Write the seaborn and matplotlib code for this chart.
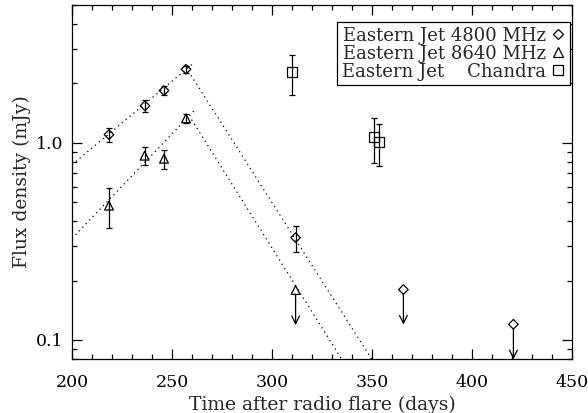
import numpy as np
import pandas as pd
import seaborn as sns
import matplotlib.pyplot as plt
from matplotlib.lines import Line2D
from matplotlib.ticker import FixedLocator, LogLocator, NullFormatter

# --- data ---
# Eastern jet, 4800 MHz detections
days_4800 = [218.5, 236.5, 246.0, 257.0, 311.8]
flux_4800 = [1.10, 1.54, 1.84, 2.36, 0.33]
err_4800 = [0.09, 0.10, 0.09, 0.09, 0.05]

# Eastern jet, 8640 MHz detections
days_8640 = [218.5, 236.3, 246.0, 257.0]
flux_8640 = [0.48, 0.86, 0.83, 1.33]
err_8640 = [0.11, 0.09, 0.09, 0.07]

# Chandra
days_chandra = [310.2, 351.2, 353.7]
flux_chandra = [2.28, 1.07, 1.01]
errlo_chandra = [0.53, 0.28, 0.25]
errhi_chandra = [0.50, 0.27, 0.23]

# upper limits
lim_days_4800 = [365.7, 420.7]
lim_flux_4800 = [0.18, 0.12]
lim_days_8640 = [311.8]
lim_flux_8640 = [0.179]

# dotted fits (rise and decay)
rise_4800_days = [200, 260.7]
rise_4800_flux = [0.774, 2.53]
decay_4800_days = [259.5, 349.8]
decay_4800_flux = [2.20, 0.08]
rise_8640_days = [200, 261.5]
rise_8640_flux = [0.327, 1.47]
decay_8640_days = [259.8, 334.8]
decay_8640_flux = [1.31, 0.08]

sns.set_theme(style='ticks')
plt.rcParams['font.family'] = ['DejaVu Serif']
plt.rcParams['mathtext.fontset'] = 'dejavuserif'

fig = plt.figure(figsize=(5.88, 4.13), dpi=100)
ax = fig.add_axes([72 / 588, 1 - 359 / 413, 500 / 588, 354 / 413])

# fit lines
for d, f in [(rise_4800_days, rise_4800_flux), (decay_4800_days, decay_4800_flux),
             (rise_8640_days, rise_8640_flux), (decay_8640_days, decay_8640_flux)]:
    sns.lineplot(x=d, y=f, ax=ax, color='black', lw=0.9, linestyle=(0, (1, 3)))

# error bars
ax.errorbar(days_4800, flux_4800, yerr=err_4800, fmt='none', ecolor='black',
            elinewidth=0.9, capsize=2.5, capthick=0.9)
ax.errorbar(days_8640, flux_8640, yerr=err_8640, fmt='none', ecolor='black',
            elinewidth=0.9, capsize=2.5, capthick=0.9)
ax.errorbar(days_chandra, flux_chandra, yerr=[errlo_chandra, errhi_chandra], fmt='none',
            ecolor='black', elinewidth=0.9, capsize=2.5, capthick=0.9)

# markers
df = pd.concat([
    pd.DataFrame({'day': days_4800 + lim_days_4800, 'flux': flux_4800 + lim_flux_4800, 'set': '4800'}),
    pd.DataFrame({'day': days_8640 + lim_days_8640, 'flux': flux_8640 + lim_flux_8640, 'set': '8640'}),
    pd.DataFrame({'day': days_chandra, 'flux': flux_chandra, 'set': 'chandra'}),
])
markers = {'4800': 'D', '8640': '^', 'chandra': 's'}
sizes = {'4800': 24, '8640': 40, 'chandra': 50}
for key, sub in df.groupby('set'):
    sns.scatterplot(data=sub, x='day', y='flux', ax=ax, marker=markers[key], s=sizes[key],
                    facecolor='none', edgecolor='black', linewidth=0.9, zorder=3)

# upper-limit arrows
for d, f in zip(lim_days_4800 + lim_days_8640, lim_flux_4800 + lim_flux_8640):
    ax.annotate('', xy=(d, f * 0.664), xytext=(d, f),
                arrowprops=dict(arrowstyle='->', color='black', lw=0.9,
                                shrinkA=3, shrinkB=0, mutation_scale=14),
                annotation_clip=False)

ax.set_yscale('log')
ax.set_xlim(200, 450)
ax.set_ylim(0.08, 5.0)
ax.xaxis.set_major_locator(FixedLocator([200, 250, 300, 350, 400, 450]))
ax.xaxis.set_minor_locator(FixedLocator(np.arange(200, 451, 10)))
ax.yaxis.set_major_locator(FixedLocator([0.1, 1.0]))
ax.yaxis.set_minor_locator(LogLocator(base=10, subs=np.arange(2, 10)))
ax.yaxis.set_minor_formatter(NullFormatter())
ax.set_yticklabels(['0.1', '1.0'])

ax.tick_params(which='both', direction='in', top=True, right=True, width=0.9,
               labelsize=12.5, colors='black')
ax.tick_params(which='major', length=7)
ax.tick_params(which='minor', length=3.5)
ax.tick_params(axis='x', which='major', pad=10.5)
ax.tick_params(axis='y', which='major', pad=6.5)
for sp in ax.spines.values():
    sp.set_linewidth(0.9)
    sp.set_color('black')

ax.set_xlabel('Time after radio flare (days)', fontsize=13.5, labelpad=4)
ax.set_ylabel('Flux density (mJy)', fontsize=13.5, labelpad=3.5)

handles = [
    Line2D([], [], marker='D', ls='none', mfc='none', mec='black', ms=5, mew=0.9),
    Line2D([], [], marker='^', ls='none', mfc='none', mec='black', ms=7, mew=0.9),
    Line2D([], [], marker='s', ls='none', mfc='none', mec='black', ms=7, mew=0.9),
]
labels = ['Eastern Jet 4800 MHz', 'Eastern Jet 8640 MHz', 'Eastern Jet    Chandra']
leg = ax.legend(handles, labels, loc='upper right', markerfirst=False, fontsize=13,
                frameon=True, fancybox=False, edgecolor='black', framealpha=1,
                handlelength=0.8, handletextpad=0.3, labelspacing=0.0,
                borderpad=0.25, borderaxespad=0, bbox_to_anchor=(0.996, 0.952))
leg.get_frame().set_linewidth(0.9)

fig.savefig('out.png', dpi=100)
